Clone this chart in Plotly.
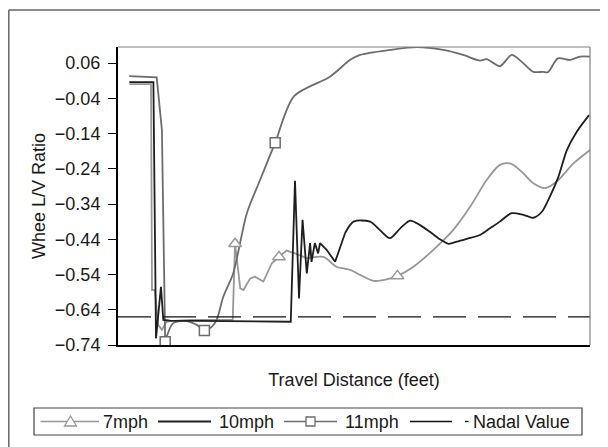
import plotly.graph_objects as go

# travel distance (arbitrary feet scale, 0-100 across the plot) and L/V ratio per speed
dist_7 = [2.4, 7.0, 7.2, 7.8, 8.5, 9.3, 10.2, 11.0, 15.3, 24.3, 24.8, 25.9, 26.6, 28.0, 29.0,
          30.8, 32.6, 34.1, 35.7, 37.5, 40.0, 43.5, 46.3, 49.2, 51.3, 54.1, 56.9, 59.2, 62.6,
          66.8, 71.0, 74.6, 78.1, 80.9, 83.1, 85.5, 88.0, 90.5, 92.9, 96.5, 100.0]
lv_7 = [0.0, 0.0, -0.584, -0.584, -0.683, -0.697, -0.675, -0.672, -0.669, -0.669, -0.453,
        -0.579, -0.584, -0.551, -0.546, -0.560, -0.508, -0.490, -0.472, -0.480, -0.494, -0.490,
        -0.518, -0.527, -0.541, -0.558, -0.554, -0.544, -0.518, -0.470, -0.414, -0.348, -0.272,
        -0.229, -0.225, -0.248, -0.281, -0.295, -0.277, -0.225, -0.187]
marks_7 = [10, 17, 27]
smooth_7 = 20

dist_10 = [2.4, 7.5, 8.05, 9.1, 9.6, 11.0, 36.6, 37.5, 38.35, 39.1, 40.0, 40.7, 41.0, 41.7,
           42.4, 42.8, 44.2, 46.0, 48.1, 49.9, 53.4, 55.5, 57.6, 59.8, 61.9, 64.0, 66.1, 68.2,
           70.0, 71.8, 73.9, 76.7, 78.8, 80.9, 83.4, 85.9, 88.0, 89.8, 91.5, 93.3, 95.1, 97.2,
           99.8]
lv_10 = [0.006, 0.006, -0.721, -0.575, -0.669, -0.671, -0.674, -0.274, -0.608, -0.385, -0.537,
         -0.451, -0.504, -0.451, -0.480, -0.451, -0.470, -0.504, -0.423, -0.390, -0.390, -0.414,
         -0.437, -0.409, -0.387, -0.400, -0.419, -0.440, -0.453, -0.447, -0.439, -0.428, -0.409,
         -0.390, -0.366, -0.371, -0.379, -0.362, -0.319, -0.263, -0.187, -0.135, -0.088]
smooth_10 = 18

dist_11 = [2.4, 8.2, 9.3, 10.0, 11.7, 14.6, 16.7, 18.3, 19.9, 20.9, 22.3, 24.4, 27.3, 30.1,
           33.3, 37.3, 44.9, 49.2, 51.3, 57.6, 63.3, 68.9, 73.1, 76.7, 78.1, 80.9, 83.4, 85.5,
           88.0, 90.0, 91.1, 93.2, 95.8, 97.9, 100.0]
lv_11 = [0.023, 0.019, -0.13, -0.731, -0.678, -0.672, -0.683, -0.699, -0.688, -0.669, -0.603,
         -0.537, -0.366, -0.272, -0.166, -0.034, 0.021, 0.069, 0.083, 0.097, 0.105, 0.097, 0.083,
         0.067, 0.071, 0.051, 0.083, 0.064, 0.035, 0.035, 0.034, 0.073, 0.069, 0.078, 0.078]
marks_11 = [3, 7, 14]
smooth_11 = 3

nadal_dist = [0, 100]
nadal_value = [-0.66, -0.66]

y_ticks = [-0.74, -0.64, -0.54, -0.44, -0.34, -0.24, -0.14, -0.04, 0.06]
legend_names = ["7mph", "10mph", "11mph", "Nadal Value"]

c7, c10, c11, cn = "#979797", "#1e1e1e", "#6c6c6c", "#111111"

# the page body adds an 8px offset, so the figure is laid out 8px up/left
W, H = 608, 447
OFF = 8
L, R, T, B = 118 - OFF, W - 590 + OFF, 47 - OFF, H - 345 + OFF


def px(x):
    return (x - OFF - L) / (W - L - R)


def py(y):
    return (H - B - (y - OFF)) / (H - T - B)


fig = go.Figure()


def add_series(x, y, k, color, width):
    fig.add_trace(go.Scatter(x=x[:k + 1], y=y[:k + 1], mode="lines", showlegend=False,
                             line=dict(color=color, width=width)))
    fig.add_trace(go.Scatter(x=x[k:], y=y[k:], mode="lines", showlegend=False,
                             line=dict(color=color, width=width, shape="spline", smoothing=0.8)))


add_series(dist_7, lv_7, smooth_7, c7, 1.8)
add_series(dist_11, lv_11, smooth_11, c11, 1.8)
add_series(dist_10, lv_10, smooth_10, c10, 1.8)

fig.add_trace(go.Scatter(x=nadal_dist, y=nadal_value, mode="lines", showlegend=False,
                         line=dict(color=cn, width=1.3, dash="33px,12px")))

fig.add_trace(go.Scatter(x=[dist_7[i] for i in marks_7], y=[lv_7[i] for i in marks_7],
                         mode="markers", showlegend=False,
                         marker=dict(symbol="triangle-up", size=11, color="white",
                                     line=dict(color=c7, width=1.5))))
fig.add_trace(go.Scatter(x=[dist_11[i] for i in marks_11], y=[lv_11[i] for i in marks_11],
                         mode="markers", showlegend=False,
                         marker=dict(symbol="square", size=10, color="white",
                                     line=dict(color=c11, width=1.5))))

# hand-built legend box (Excel style)
ly = 421.5
shapes = [
    dict(type="line", xref="paper", yref="paper", x0=0, x1=1, y0=1, y1=1,
         line=dict(color="#808080", width=1.2)),
    dict(type="line", xref="paper", yref="paper", x0=1, x1=1, y0=0, y1=1,
         line=dict(color="#808080", width=1.2)),
    dict(type="line", xref="paper", yref="paper", x0=px(8.8), x1=px(700), y0=py(10), y1=py(10),
         line=dict(color="#666666", width=1.5)),
    dict(type="line", xref="paper", yref="paper", x0=px(8.8), x1=px(8.8), y0=py(500), y1=py(10),
         line=dict(color="#666666", width=1.5)),
    dict(type="rect", xref="paper", yref="paper", x0=px(34), x1=px(582), y0=py(435), y1=py(408),
         line=dict(color="#444444", width=1.2), fillcolor="white", layer="below"),
    dict(type="line", xref="paper", yref="paper", x0=px(40.5), x1=px(99), y0=py(ly), y1=py(ly),
         line=dict(color=c7, width=1.5)),
    dict(type="path", xref="paper", yref="paper",
         path="M{},{} L{},{} L{},{} Z".format(px(64.5), py(426), px(76.5), py(426), px(70.5), py(416)),
         line=dict(color=c7, width=1.3), fillcolor="white"),
    dict(type="line", xref="paper", yref="paper", x0=px(158), x1=px(211), y0=py(ly), y1=py(ly),
         line=dict(color=c10, width=1.8)),
    dict(type="line", xref="paper", yref="paper", x0=px(284), x1=px(337), y0=py(ly), y1=py(ly),
         line=dict(color=c11, width=1.5)),
    dict(type="rect", xref="paper", yref="paper", x0=px(306), x1=px(315), y0=py(426), y1=py(417),
         line=dict(color=c11, width=1.3), fillcolor="white"),
    dict(type="line", xref="paper", yref="paper", x0=px(410), x1=px(452), y0=py(ly), y1=py(ly),
         line=dict(color=cn, width=1.3)),
    dict(type="line", xref="paper", yref="paper", x0=px(465), x1=px(468.5), y0=py(ly), y1=py(ly),
         line=dict(color=cn, width=1.3)),
]

annotations = []
for name, x0 in zip(legend_names, [101, 217, 343, 471]):
    annotations.append(dict(text=name, xref="paper", yref="paper", x=px(x0), y=py(ly),
                            xanchor="left", yanchor="middle", showarrow=False,
                            font=dict(size=18, color="#1a1a1a")))

fig.update_layout(
    width=W, height=H,
    margin=dict(l=L, r=R, t=T, b=B),
    paper_bgcolor="white", plot_bgcolor="white",
    showlegend=False,
    font=dict(family="Liberation Sans, Arial", size=18, color="#1a1a1a"),
    xaxis=dict(range=[0, 100], showgrid=False, zeroline=False, showticklabels=False,
               ticks="", showline=True, linecolor="black", linewidth=2, automargin=False,
               title=dict(text="Travel Distance (feet)", standoff=27,
                          font=dict(size=18))),
    yaxis=dict(range=[-0.74, 0.1054], showgrid=False, zeroline=False,
               tickvals=y_ticks, tickformat=".2f", ticks="outside", ticklen=8,
               tickcolor="black", tickwidth=1.2, showline=True, linecolor="black",
               linewidth=2, tickfont=dict(size=18), ticklabelstandoff=4, automargin=False,
               title=dict(text="Whee L/V Ratio", standoff=5, font=dict(size=18))),
    shapes=shapes,
    annotations=annotations,
)

fig.write_html("out.html")
